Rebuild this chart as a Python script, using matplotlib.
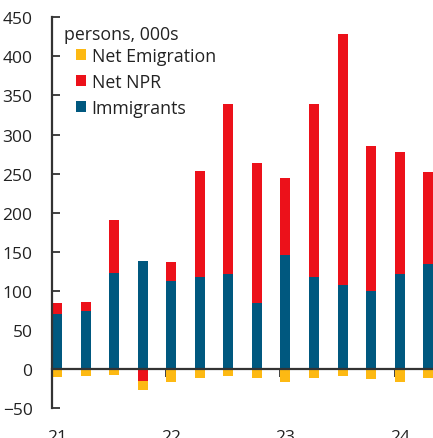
import matplotlib.pyplot as plt
import numpy as np
from matplotlib.transforms import blended_transform_factory

plt.rcParams['font.family'] = ['Open Sans', 'DejaVu Sans']

# quarterly data, 21Q1 .. 24Q2 (persons, 000s)
quarters = ['21Q1', '21Q2', '21Q3', '21Q4', '22Q1', '22Q2', '22Q3', '22Q4',
            '23Q1', '23Q2', '23Q3', '23Q4', '24Q1', '24Q2']
immigrants = [70, 74, 123, 138, 113, 118, 122, 84, 146, 118, 108, 100, 122, 134]
net_npr = [14, 12, 68, -15.5, 23.5, 135.5, 216.5, 180, 98.5, 221.5, 320.5, 185.5, 155, 118.5]
net_emigration = [-10.5, -9, -8, -11.5, -17, -12, -8.5, -12, -17, -12, -9, -13, -17, -12]
year_labels = ['21', '22', '23', '24']

blue = '#00587f'
red = '#ec111a'
gold = '#fdb913'
dark = '#333333'

imm = np.array(immigrants)
npr = np.array(net_npr)
emi = np.array(net_emigration)
x = np.arange(len(quarters))
w = 0.35

npr_base = np.where(npr >= 0, imm, 0)
emi_base = np.where(npr < 0, npr, 0)

fig = plt.figure(figsize=(4.33, 4.39), dpi=100)
ax = fig.add_axes([0.120, 0.0683, 0.880, 0.890])

ax.bar(x, imm, w, align='edge', color=blue, label='Immigrants', zorder=2)
ax.bar(x, npr, w, bottom=npr_base, align='edge', color=red, label='Net NPR', zorder=2)
ax.bar(x, emi, w, bottom=emi_base, align='edge', color=gold, label='Net Emigration', zorder=2)

ax.set_xlim(0, 13.34)
ax.set_ylim(-50, 450)
ax.set_yticks(np.arange(-50, 451, 50))
ax.tick_params(axis='y', direction='in', length=6, width=1.3, color=dark,
               labelsize=12.5, labelcolor='#222222', pad=14)

for s in ['top', 'right']:
    ax.spines[s].set_visible(False)
ax.spines['left'].set_color(dark)
ax.spines['left'].set_linewidth(1.6)
ax.spines['bottom'].set_position(('data', 0))
ax.spines['bottom'].set_color(dark)
ax.spines['bottom'].set_linewidth(1.6)
ax.spines['bottom'].set_zorder(3)

ax.set_xticks(np.arange(0, len(quarters), 4))
ax.set_xticklabels([])
ax.tick_params(axis='x', direction='out', length=6, width=1.3, color=dark)

trans = blended_transform_factory(ax.transData, ax.transAxes)
for i, lab in enumerate(year_labels):
    ax.text(i * 4 + w / 2, -0.0535, lab, transform=trans, ha='center', va='top',
            fontsize=12.5, color='#222222')

ax.text(0.031, 0.957, 'persons, 000s', transform=ax.transAxes, ha='left',
        va='center', fontsize=12.8, color='#222222')

handles, labels = ax.get_legend_handles_labels()
leg = ax.legend(handles[::-1], labels[::-1], loc='upper left',
                bbox_to_anchor=(0.064, 0.924), frameon=False, fontsize=12.8,
                handlelength=0.56, handleheight=0.56, handletextpad=0.3,
                labelspacing=0.45, borderpad=0, borderaxespad=0)
for t in leg.get_texts():
    t.set_color('#222222')

fig.savefig('out.png', dpi=100)
